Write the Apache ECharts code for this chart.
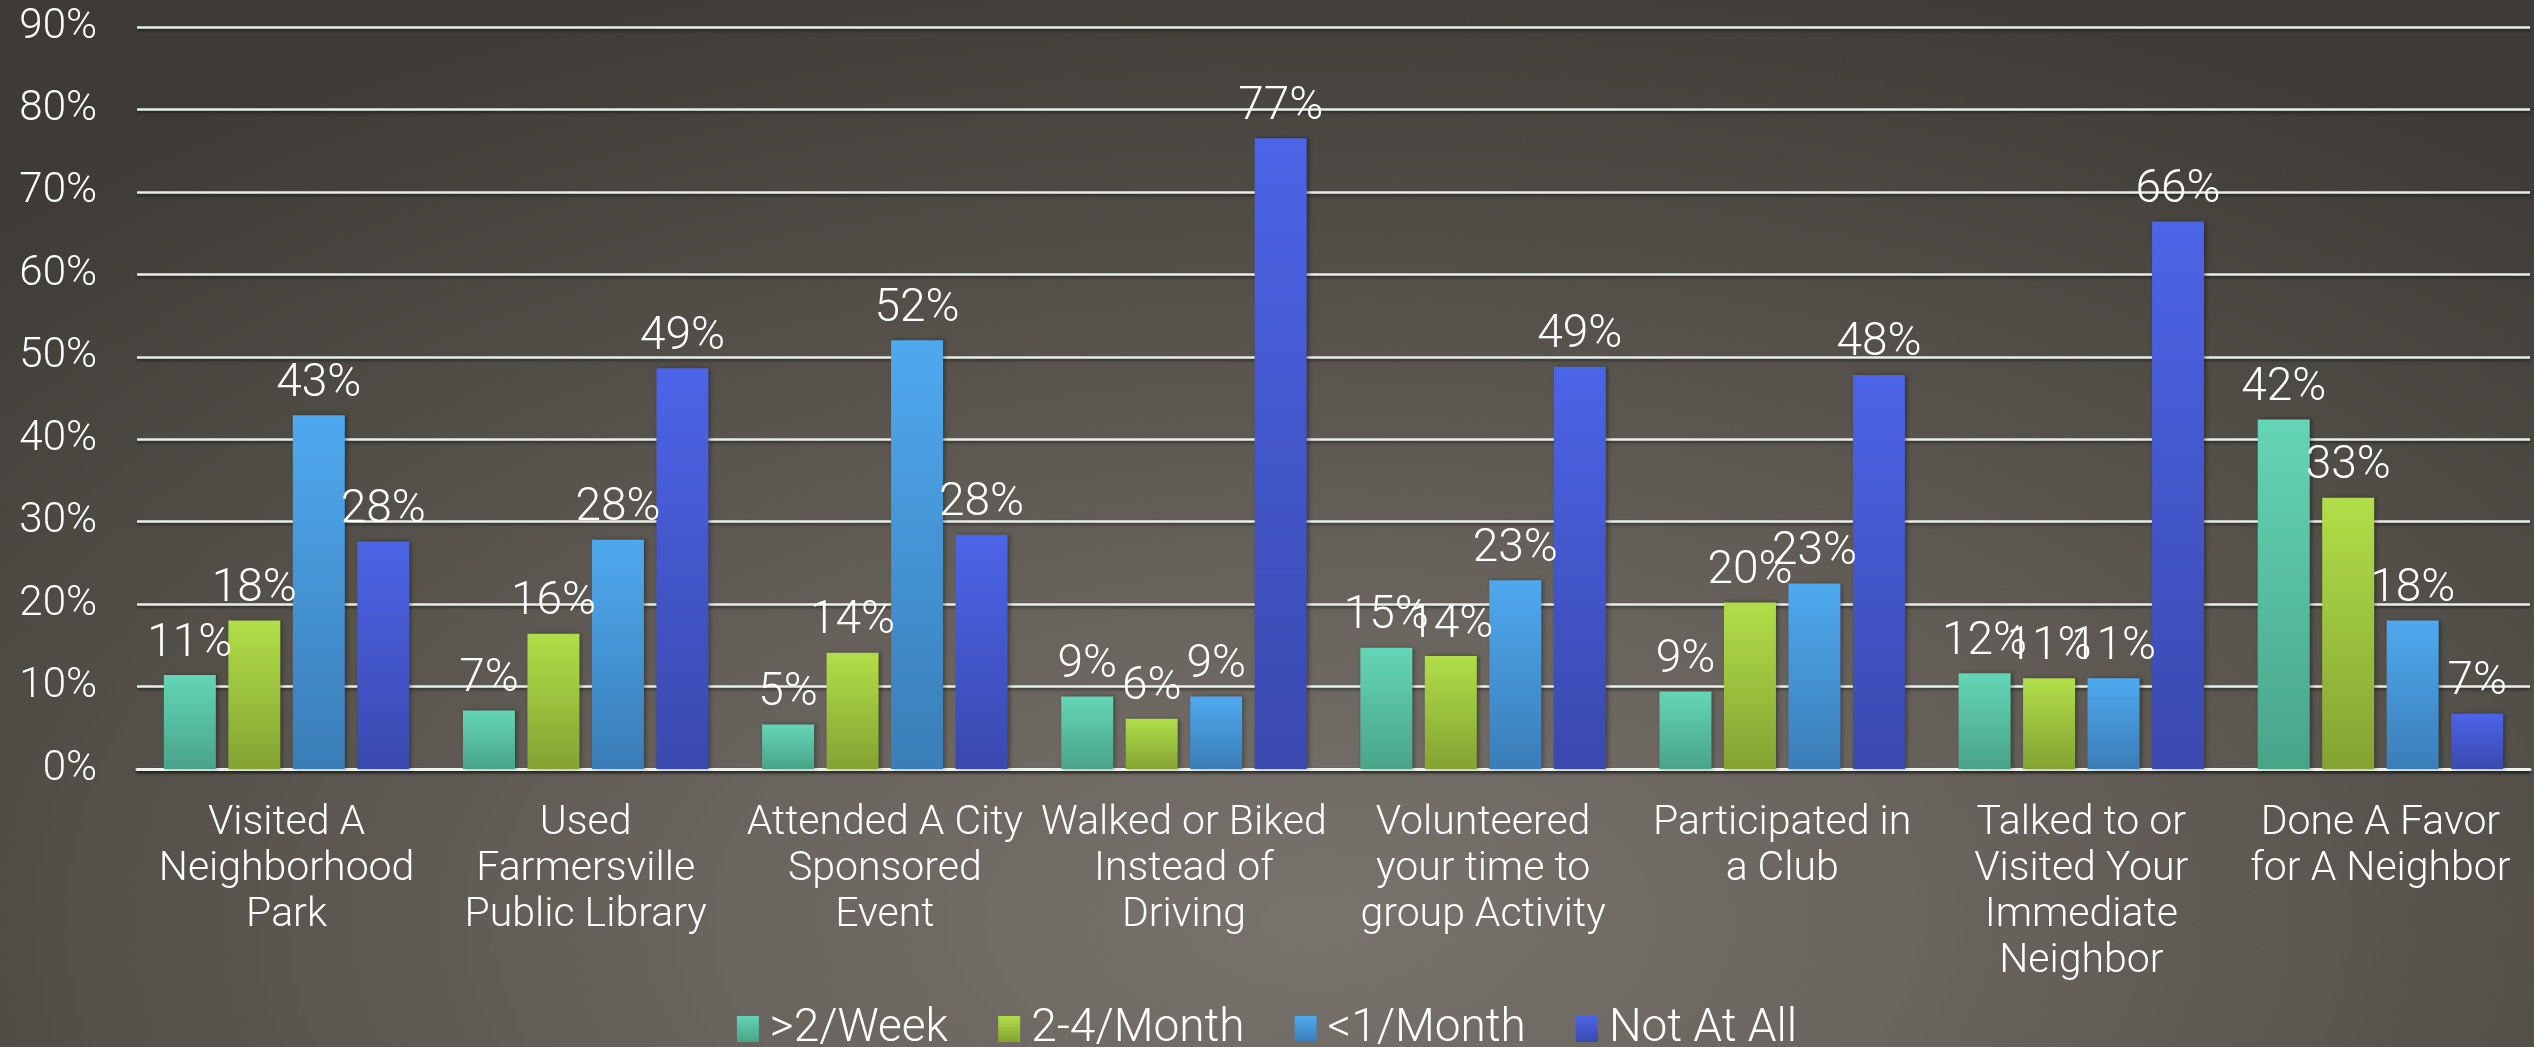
<!DOCTYPE html>
<html>
<head>
<meta charset="utf-8">
<script src="https://cdn.jsdelivr.net/npm/echarts@6/dist/echarts.min.js"></script>
<style>
html,body{margin:0;padding:0;width:2534px;height:1047px;overflow:hidden;}
#chart{width:2534px;height:1047px;background:radial-gradient(ellipse 75% 95% at 52% 88%, #78736c 0%, #67625b 35%, #504c46 70%, #3e3b36 100%);}
</style>
</head>
<body>
<div id="chart"></div>
<script>
const categories = [
  "Visited A\nNeighborhood\nPark",
  "Used\nFarmersville\nPublic Library",
  "Attended A City\nSponsored\nEvent",
  "Walked or Biked\nInstead of\nDriving",
  "Volunteered\nyour time to\ngroup Activity",
  "Participated in\na Club",
  "Talked to or\nVisited Your\nImmediate\nNeighbor",
  "Done A Favor\nfor A Neighbor"
];
const seriesNames = [">2/Week", "2-4/Month", "<1/Month", "Not At All"];
const over2Week  = [11.4, 7.1, 5.4, 8.8, 14.7, 9.4, 11.6, 42.4];
const twoFourMon = [18.0, 16.4, 14.1, 6.1, 13.7, 20.2, 11.0, 32.9];
const under1Mon  = [42.9, 27.8, 52.0, 8.8, 22.9, 22.5, 11.0, 18.0];
const notAtAll   = [27.6, 48.6, 28.4, 76.5, 48.8, 47.8, 66.4, 6.7];
const yTicks = [0, 10, 20, 30, 40, 50, 60, 70, 80, 90];

const FONT = 'Roboto, "Noto Sans", sans-serif';
const colorPairs = [
  ['#64d6b5', '#49a488'],
  ['#b1de48', '#84a333'],
  ['#4fa9ef', '#3a7db7'],
  ['#4c64e7', '#3a49ae']
];
const grad = (c) => new echarts.graphic.LinearGradient(0, 0, 0, 1, [
  {offset: 0, color: c[0]}, {offset: 1, color: c[1]}
]);
const allData = [over2Week, twoFourMon, under1Mon, notAtAll];

const chart = echarts.init(document.getElementById('chart'), null, {renderer: 'canvas'});
chart.setOption({
  backgroundColor: 'transparent',
  animation: false,
  grid: {left: 137, right: 4, top: 27, bottom: 278, containLabel: false},
  legend: {
    top: 1001,
    left: 'center',
    itemWidth: 22,
    itemHeight: 26,
    itemGap: 50,
    icon: 'rect',
    textStyle: {color: '#ffffff', fontSize: 46, fontFamily: FONT, fontWeight: 300, padding: [0, 0, 0, 6]},
    data: seriesNames
  },
  xAxis: {
    type: 'category',
    data: categories,
    axisTick: {show: false},
    axisLine: {show: true, lineStyle: {color: '#eef3ee', width: 3, shadowColor: 'rgba(0,0,0,0.5)', shadowBlur: 3, shadowOffsetY: 2}},
    axisLabel: {
      interval: 0,
      color: '#ffffff',
      fontSize: 41,
      fontFamily: FONT,
      fontWeight: 300,
      lineHeight: 46,
      margin: 32
    }
  },
  yAxis: {
    type: 'value',
    min: yTicks[0],
    max: yTicks[yTicks.length - 1],
    interval: 10,
    axisLine: {show: false},
    axisTick: {show: false},
    axisLabel: {
      color: '#ffffff',
      fontSize: 42,
      fontFamily: FONT,
      fontWeight: 300,
      margin: 40,
      formatter: (v) => v + '%'
    },
    splitLine: {lineStyle: {color: '#e8efe8', width: 2.5, shadowColor: 'rgba(0,0,0,0.45)', shadowBlur: 3, shadowOffsetY: 2}}
  },
  series: seriesNames.map((name, i) => ({
    name: name,
    type: 'bar',
    data: allData[i],
    barWidth: 52,
    barGap: '24%',
    itemStyle: {
      color: grad(colorPairs[i]),
      shadowColor: 'rgba(0,0,0,0.35)',
      shadowBlur: 4,
      shadowOffsetX: 2
    },
    label: {
      show: true,
      position: 'top',
      distance: 8,
      color: '#ffffff',
      fontSize: 46,
      fontFamily: FONT,
      fontWeight: 300,
      formatter: (p) => Math.round(p.value) + '%'
    }
  }))
});
</script>
</body>
</html>
